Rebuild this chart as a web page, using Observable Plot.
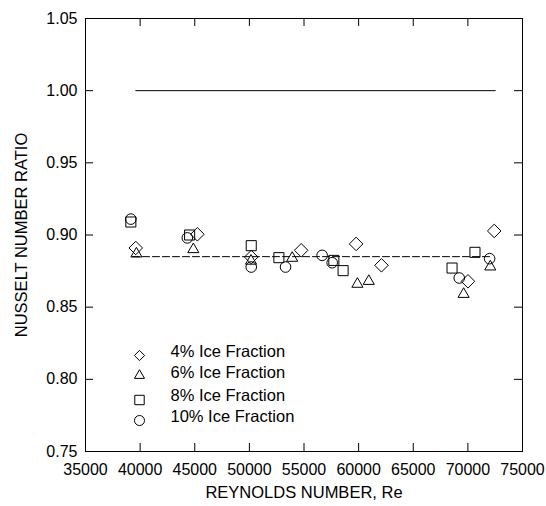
<!DOCTYPE html>
<html>
<head>
<meta charset="utf-8">
<script src="https://cdn.jsdelivr.net/npm/d3@7"></script>
<script src="https://cdn.jsdelivr.net/npm/@observablehq/plot@0.6"></script>
<style>
  html, body { margin: 0; padding: 0; background: white; }
</style>
</head>
<body>
<div id="chart"></div>
<script>
// ---- data ----
const xTickLabels = [35000, 40000, 45000, 50000, 55000, 60000, 65000, 70000, 75000];
const yTickLabels = [0.75, 0.80, 0.85, 0.90, 0.95, 1.00, 1.05];
const xTitle = "REYNOLDS NUMBER, Re";
const yTitle = "NUSSELT NUMBER RATIO";
const seriesNames = ["4% Ice Fraction", "6% Ice Fraction", "8% Ice Fraction", "10% Ice Fraction"];

const re4 = [39600, 45240, 50170, 54740, 59770, 62090, 70010, 72410];
const nu4 = [0.891, 0.9005, 0.8847, 0.8894, 0.8938, 0.879, 0.8679, 0.9028];

const re6 = [39660, 44870, 50150, 53920, 59890, 60930, 69610, 72050];
const nu6 = [0.887, 0.890, 0.882, 0.884, 0.866, 0.868, 0.859, 0.878];

const re8 = [39150, 44530, 50170, 52700, 57730, 58580, 68550, 70650];
const nu8 = [0.909, 0.900, 0.8926, 0.8843, 0.8824, 0.8753, 0.8771, 0.888];

const re10 = [39150, 44320, 50170, 53310, 56660, 57580, 69210, 71990];
const nu10 = [0.911, 0.898, 0.8778, 0.8778, 0.8859, 0.8808, 0.8702, 0.8836];

// reference lines: [start Re, end Re], value
const solidLineRe = [39600, 72500];
const solidLineValue = 1.00;
const dashedLineRe = [39300, 72100];
const dashedLineValue = 0.885;

// ---- layout ----
const W = 546, H = 506;
const mTop = 18, mRight = 24, mBottom = 55, mLeft = 85;
const plotW = W - mLeft - mRight;
const plotH = H - mTop - mBottom;
const tickLen = 8;
const font = "'Liberation Sans', Arial, Helvetica, sans-serif";

const symbols = ["diamond2", "triangle2", "square2", "circle"];
const radii = [6.1, 5.3, 6.4, 5.3];
const legendRadii = [4.6, 4.8, 6.0, 5.0];
const legendSymDy = [-96, -76, -51.5, -31];
const legendTextDy = [-94.3, -73.3, -51, -29.3];

const seriesRe = [re4, re6, re8, re10];
const seriesNu = [nu4, nu6, nu8, nu10];

const innerX = xTickLabels.slice(1, -1);
const innerY = yTickLabels.slice(1, -1);

const marks = [];

// reference lines
marks.push(Plot.line(solidLineRe.map(r => ({r, v: solidLineValue})), {x: "r", y: "v", stroke: "black", strokeWidth: 1}));
marks.push(Plot.line(dashedLineRe.map(r => ({r, v: dashedLineValue})), {x: "r", y: "v", stroke: "black", strokeWidth: 1, strokeDasharray: "7,3"}));

// data symbols
seriesRe.forEach((res, i) => {
  const data = res.map((r, j) => ({r, v: seriesNu[i][j]}));
  marks.push(Plot.dot(data, {x: "r", y: "v", symbol: symbols[i], r: radii[i], stroke: "black", fill: "none", strokeWidth: 1}));
});

// legend
seriesNames.forEach((name, i) => {
  marks.push(Plot.dot([name], {frameAnchor: "bottom-left", dx: 54, dy: legendSymDy[i], symbol: symbols[i], r: legendRadii[i], stroke: "black", fill: "none", strokeWidth: 1}));
  marks.push(Plot.text([name], {frameAnchor: "bottom-left", dx: 85, dy: legendTextDy[i], text: d => d, textAnchor: "start", fontSize: 16.5, fill: "black"}));
});

// frame
marks.push(Plot.frame({stroke: "black", strokeWidth: 1}));

// inward ticks
marks.push(Plot.tickX(innerX, {x: d => d, insetTop: plotH - tickLen, stroke: "black"}));
marks.push(Plot.tickX(innerX, {x: d => d, insetBottom: plotH - tickLen, stroke: "black"}));
marks.push(Plot.tickY(innerY, {y: d => d, insetRight: plotW - tickLen, stroke: "black"}));
marks.push(Plot.tickY(innerY, {y: d => d, insetLeft: plotW - tickLen, stroke: "black"}));

// axes labels
marks.push(Plot.axisX({ticks: xTickLabels, tickSize: 0, tickPadding: 12, tickFormat: d => String(d), label: null, fontSize: 16}));
marks.push(Plot.axisY({ticks: yTickLabels, tickSize: 0, tickPadding: 8, tickFormat: d => d.toFixed(2), label: null, fontSize: 16}));

// axis titles
marks.push(Plot.text([xTitle], {frameAnchor: "bottom", dy: 46, text: d => d, textAnchor: "middle", fontSize: 16.5, fill: "black"}));
marks.push(Plot.text([yTitle], {frameAnchor: "left", dx: -64, rotate: -90, text: d => d, textAnchor: "middle", fontSize: 16.5, fill: "black"}));

const chart = Plot.plot({
  width: W,
  height: H,
  marginTop: mTop,
  marginRight: mRight,
  marginBottom: mBottom,
  marginLeft: mLeft,
  x: {domain: [35000, 75000]},
  y: {domain: [0.75, 1.05]},
  style: {fontFamily: font, fontSize: "16px", color: "black", background: "white", overflow: "visible"},
  marks
});
document.getElementById("chart").appendChild(chart);
</script>
</body>
</html>
